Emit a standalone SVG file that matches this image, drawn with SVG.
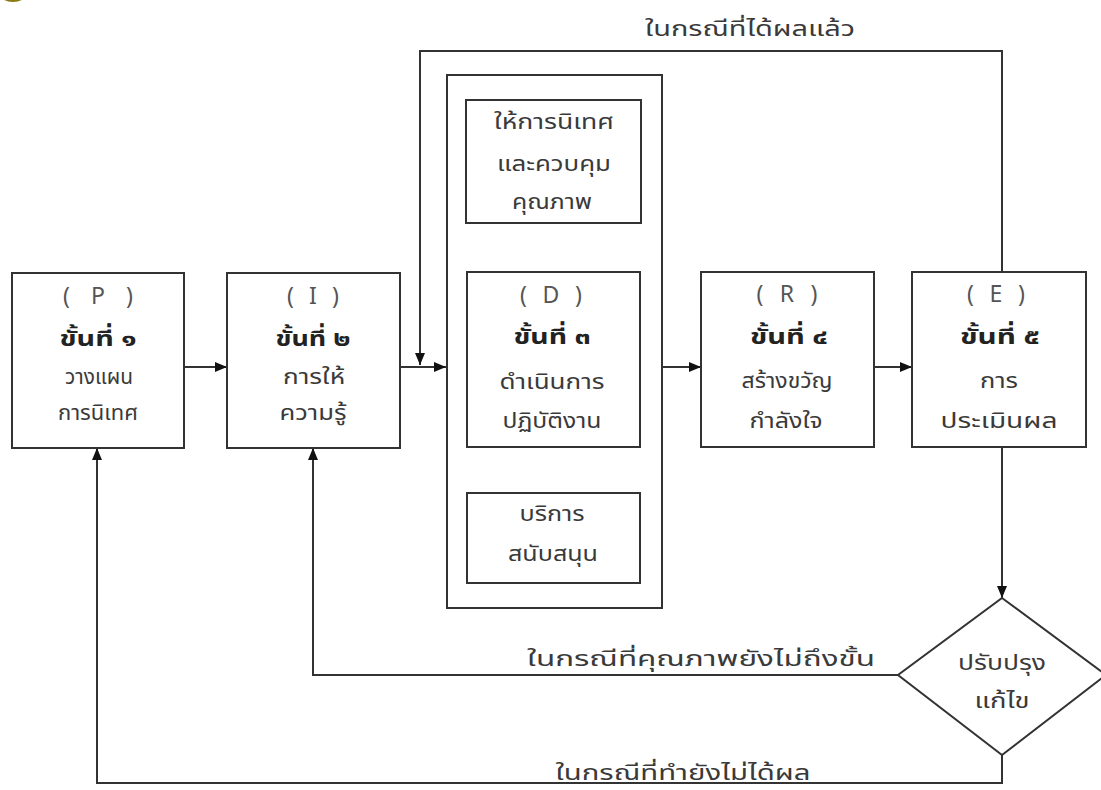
<svg xmlns="http://www.w3.org/2000/svg" width="1101" height="790" viewBox="0 0 1101 790">
  <defs>
    <marker id="arr" viewBox="0 0 12 10" refX="12" refY="5" markerWidth="12" markerHeight="10" markerUnits="userSpaceOnUse" orient="auto">
      <path d="M0,0 L12,5 L0,10 Z" fill="#111"/>
    </marker>
    <style>
      .box { fill: #fff; stroke: #333; stroke-width: 2; }
      .ln { fill: none; stroke: #333; stroke-width: 2; }
      .t { font-family: "Noto Sans Thai", "Tahoma", "Noto Sans", "DejaVu Sans", sans-serif; font-size: 22px; fill: #3a3a3a; text-anchor: middle; }
      .p { fill: #555; font-size: 23px; }
      .b { font-weight: bold; fill: #222; font-size: 22px; }
      .lbl { font-family: "Noto Sans Thai", "Tahoma", "Noto Sans", "DejaVu Sans", sans-serif; font-size: 21px; fill: #3a3a3a; text-anchor: middle; }
    </style>
  </defs>
  <rect width="1101" height="790" fill="#fff"/>
  <!-- corner mark -->
  <ellipse cx="13" cy="-7" rx="14" ry="9" fill="#8a7a12"/>

  <!-- connectors -->
  <g id="connectors">
    <line class="ln" x1="184" y1="367" x2="227" y2="367" marker-end="url(#arr)"/>
    <line class="ln" x1="400" y1="367" x2="446" y2="367" marker-end="url(#arr)"/>
    <line class="ln" x1="662" y1="367" x2="701" y2="367" marker-end="url(#arr)"/>
    <line class="ln" x1="874" y1="367" x2="912" y2="367" marker-end="url(#arr)"/>
    <line class="ln" x1="547" y1="223" x2="547" y2="272" marker-end="url(#arr)"/>
    <line class="ln" x1="547" y1="493" x2="547" y2="447" marker-end="url(#arr)"/>
    <polyline class="ln" points="1002,272 1002,51 420,51 420,365" marker-end="url(#arr)"/>
    <line class="ln" x1="1002" y1="447" x2="1002" y2="598" marker-end="url(#arr)"/>
    <polyline class="ln" points="898,675 313,675 313,448" marker-end="url(#arr)"/>
    <polyline class="ln" points="1002,755 1002,783 97,783 97,448" marker-end="url(#arr)"/>
    <text class="lbl" x="750" y="36" textLength="210" lengthAdjust="spacingAndGlyphs">ในกรณีที่ได้ผลแล้ว</text>
    <text class="lbl" x="701" y="666" textLength="348" lengthAdjust="spacingAndGlyphs">ในกรณีที่คุณภาพยังไม่ถึงขั้น</text>
    <text class="lbl" x="683" y="780" textLength="255" lengthAdjust="spacingAndGlyphs">ในกรณีที่ทำยังไม่ได้ผล</text>
  </g>

  <g id="node-p">
    <rect class="box" x="12" y="273" width="172" height="175"/>
    <text class="t p" x="98" y="304" textLength="70" lengthAdjust="spacing">( P )</text>
    <text class="t b" x="98" y="346" textLength="77" lengthAdjust="spacingAndGlyphs">ขั้นที่ ๑</text>
    <text class="t" x="99" y="384" textLength="68" lengthAdjust="spacingAndGlyphs">วางแผน</text>
    <text class="t" x="98" y="420" textLength="80" lengthAdjust="spacingAndGlyphs">การนิเทศ</text>
  </g>

  <g id="node-i">
    <rect class="box" x="227" y="273" width="173" height="175"/>
    <text class="t p" x="313" y="304" textLength="52" lengthAdjust="spacing">( I )</text>
    <text class="t b" x="313" y="346" textLength="75" lengthAdjust="spacingAndGlyphs">ขั้นที่ ๒</text>
    <text class="t" x="314" y="384" textLength="62" lengthAdjust="spacingAndGlyphs">การให้</text>
    <text class="t" x="313" y="420" textLength="67" lengthAdjust="spacingAndGlyphs">ความรู้</text>
  </g>

  <g id="node-d-group">
    <rect class="box" x="447" y="75" width="215" height="533"/>
  </g>

  <g id="node-supervise">
    <rect class="box" x="466" y="100" width="175" height="123"/>
    <text class="t" x="554" y="129" textLength="120" lengthAdjust="spacingAndGlyphs">ให้การนิเทศ</text>
    <text class="t" x="554" y="171" textLength="114" lengthAdjust="spacingAndGlyphs">และควบคุม</text>
    <text class="t" x="552" y="209" textLength="80" lengthAdjust="spacingAndGlyphs">คุณภาพ</text>
  </g>

  <g id="node-d">
    <rect class="box" x="467" y="272" width="173" height="175"/>
    <text class="t p" x="551" y="303" textLength="62" lengthAdjust="spacing">( D )</text>
    <text class="t b" x="552" y="344" textLength="77" lengthAdjust="spacingAndGlyphs">ขั้นที่ ๓</text>
    <text class="t" x="552" y="389" textLength="105" lengthAdjust="spacingAndGlyphs">ดำเนินการ</text>
    <text class="t" x="552" y="428" textLength="99" lengthAdjust="spacingAndGlyphs">ปฏิบัติงาน</text>
  </g>

  <g id="node-support">
    <rect class="box" x="467" y="493" width="173" height="90"/>
    <text class="t" x="552" y="521" textLength="65" lengthAdjust="spacingAndGlyphs">บริการ</text>
    <text class="t" x="553" y="561" textLength="90" lengthAdjust="spacingAndGlyphs">สนับสนุน</text>
  </g>

  <g id="node-r">
    <rect class="box" x="701" y="272" width="173" height="175"/>
    <text class="t p" x="787" y="302" textLength="61" lengthAdjust="spacing">( R )</text>
    <text class="t b" x="789" y="344" textLength="78" lengthAdjust="spacingAndGlyphs">ขั้นที่ ๔</text>
    <text class="t" x="787" y="388" textLength="91" lengthAdjust="spacingAndGlyphs">สร้างขวัญ</text>
    <text class="t" x="786" y="428" textLength="73" lengthAdjust="spacingAndGlyphs">กำลังใจ</text>
  </g>

  <g id="node-e">
    <rect class="box" x="912" y="272" width="174" height="175"/>
    <text class="t p" x="996" y="302" textLength="58" lengthAdjust="spacing">( E )</text>
    <text class="t b" x="1000" y="344" textLength="80" lengthAdjust="spacingAndGlyphs">ขั้นที่ ๕</text>
    <text class="t" x="999" y="388" textLength="38" lengthAdjust="spacingAndGlyphs">การ</text>
    <text class="t" x="999" y="428" textLength="117" lengthAdjust="spacingAndGlyphs">ประเมินผล</text>
  </g>

  <g id="node-fix">
    <polygon class="box" points="1002,598 1106,675 1002,755 898,675"/>
    <text class="t" x="1002" y="670" textLength="88" lengthAdjust="spacingAndGlyphs">ปรับปรุง</text>
    <text class="t" x="1002" y="708" textLength="55" lengthAdjust="spacingAndGlyphs">แก้ไข</text>
  </g>
</svg>
